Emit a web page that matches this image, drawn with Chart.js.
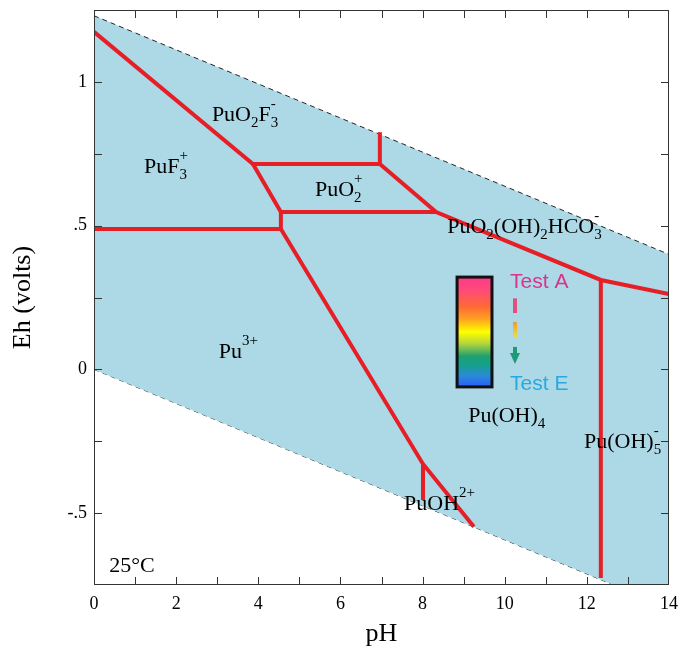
<!DOCTYPE html>
<html>
<head>
<meta charset="utf-8">
<script src="https://cdn.jsdelivr.net/npm/chart.js@4/dist/chart.umd.min.js"></script>
<style>
  html, body { margin: 0; background: #fff; }
  #wrap { width: 685px; height: 658px; }
</style>
</head>
<body>
<div id="wrap"><canvas id="chart"></canvas></div>
<script>
'use strict';

// ── Data ─────────────────────────────────────────────────────────────────────
const PH_MIN = 0, PH_MAX = 14;
const EH_MIN = -0.75, EH_MAX = 1.25;

const phLabelTicks = [0, 2, 4, 6, 8, 10, 12, 14];
const phMinorTicks = [1, 2, 3, 4, 5, 6, 7, 8, 9, 10, 11, 12, 13];
const ehLabelTicks = [-0.5, 0, 0.5, 1];
const ehTickLabels = ['-.5', '0', '.5', '1'];
const ehMinorTicks = [-0.5, -0.25, 0, 0.25, 0.5, 0.75, 1];

// water stability limits [pH, Eh]
const waterUpper = [[0, 1.23], [14, 0.40]];
const waterLower = [[0, 0.0], [14, -0.83]];

// predominance boundaries [pH, Eh]
const bFluoride  = [[0, 1.174], [3.87, 0.714], [6.96, 0.714], [8.33, 0.547], [12.34, 0.311], [14, 0.262]];
const bPuO2Top   = [[6.96, 0.714], [6.96, 0.825]];
const bPuO2Low   = [[3.87, 0.714], [4.55, 0.547], [8.33, 0.547]];
const bPu3Top    = [[0, 0.488], [4.55, 0.488], [4.55, 0.547]];
const bPu3Right  = [[4.55, 0.488], [8.01, -0.329], [9.25, -0.547]];
const bPuOH      = [[8.01, -0.329], [8.01, -0.454]];
const bPuOH5     = [[12.34, 0.311], [12.34, -0.726]];
const boundaries = [bFluoride, bPuO2Top, bPuO2Low, bPu3Top, bPu3Right, bPuOH, bPuOH5];

// species labels: parts, [pH, Eh] of baseline start
const speciesLabels = [
  { parts: ['PuO', { sub: '2' }, 'F', { sub: '3', sup: '-' }], at: [2.87, 0.864] },
  { parts: ['PuF', { sub: '3', sup: '+' }], at: [1.22, 0.683] },
  { parts: ['PuO', { sub: '2', sup: '+' }], at: [5.38, 0.603] },
  { parts: ['PuO', { sub: '2' }, '(OH)', { sub: '2' }, 'HCO', { sub: '3', sup: '-' }], at: [8.60, 0.474] },
  { parts: ['Pu', { sup: '3+' }], at: [3.04, 0.040] },
  { parts: ['Pu(OH)', { sub: '4' }], at: [9.11, -0.183] },
  { parts: ['Pu(OH)', { sub: '5', sup: '-' }], at: [11.93, -0.273] },
  { parts: ['PuOH', { sup: '2+' }], at: [7.55, -0.489] },
  { parts: ['25°C'], at: [0.37, -0.705] },
];

// ── Style ────────────────────────────────────────────────────────────────────
const SERIF = '"Liberation Serif", "Times New Roman", serif';
const SANS  = '"Liberation Sans", Arial, sans-serif';
const RED   = '#e61e25';
const FILL  = '#add8e6';

// colour key box (pH, Eh corners) and its legend
const keyBox   = { x0: 8.84, x1: 9.69, y0: 0.321, y1: -0.061 };
const keyStops = [[0, '#ff3a8e'], [0.12, '#ff4a78'], [0.27, '#ff6a35'], [0.38, '#ffa020'],
                  [0.50, '#ffff00'], [0.60, '#b8d838'], [0.72, '#20a070'], [0.80, '#14a08c'],
                  [0.90, '#2a8ad8'], [1, '#2a5cff']];

function lineDs(pts, extra) {
  return Object.assign({
    data: pts.map(([x, y]) => ({ x, y })),
    showLine: true,
    pointRadius: 0,
    pointHoverRadius: 0,
    fill: false,
  }, extra);
}

function drawFormula(ctx, parts, x, y, size) {
  const small = Math.round(size * 0.68);
  for (const p of parts) {
    if (typeof p === 'string') {
      ctx.font = `${size}px ${SERIF}`;
      ctx.fillText(p, x, y);
      x += ctx.measureText(p).width;
    } else {
      ctx.font = `${small}px ${SERIF}`;
      let w = 0;
      if (p.sub) { ctx.fillText(p.sub, x, y + size * 0.28); w = ctx.measureText(p.sub).width; }
      if (p.sup) { ctx.fillText(p.sup, x, y - size * 0.6); w = Math.max(w, ctx.measureText(p.sup).width); }
      x += w;
    }
  }
}

// ── Plugin: frame, inward ticks, labels, colour key ──────────────────────────
const decorPlugin = {
  id: 'decor',
  afterDatasetsDraw(chart) {
    const { ctx, chartArea: a, scales: { x, y } } = chart;
    ctx.save();

    // species labels
    ctx.fillStyle = '#000';
    ctx.textBaseline = 'alphabetic';
    ctx.textAlign = 'left';
    speciesLabels.forEach(l => {
      drawFormula(ctx, l.parts, x.getPixelForValue(l.at[0]), y.getPixelForValue(l.at[1]), 22);
    });

    // colour key
    const kx0 = x.getPixelForValue(keyBox.x0), kx1 = x.getPixelForValue(keyBox.x1);
    const ky0 = y.getPixelForValue(keyBox.y0), ky1 = y.getPixelForValue(keyBox.y1);
    const g = ctx.createLinearGradient(0, ky0, 0, ky1);
    keyStops.forEach(([o, c]) => g.addColorStop(o, c));
    ctx.fillStyle = g;
    ctx.fillRect(kx0, ky0, kx1 - kx0, ky1 - ky0);
    ctx.lineWidth = 3;
    ctx.strokeStyle = '#111';
    ctx.strokeRect(kx0, ky0, kx1 - kx0, ky1 - ky0);

    ctx.font = `21px ${SANS}`;
    ctx.fillStyle = '#d8348c';
    ctx.fillText('Test A', x.getPixelForValue(10.13), y.getPixelForValue(0.283));
    ctx.fillStyle = '#2aa8e0';
    ctx.fillText('Test E', x.getPixelForValue(10.13), y.getPixelForValue(-0.071));

    // dashed arrow
    const ax = x.getPixelForValue(10.25);
    ctx.lineWidth = 4;
    ctx.strokeStyle = '#e0507c';
    ctx.beginPath();
    ctx.moveTo(ax, y.getPixelForValue(0.247)); ctx.lineTo(ax, y.getPixelForValue(0.196));
    ctx.stroke();
    const s2a = y.getPixelForValue(0.165), s2b = y.getPixelForValue(0.113);
    const g2 = ctx.createLinearGradient(0, s2a, 0, s2b);
    g2.addColorStop(0, '#f09a30'); g2.addColorStop(1, '#e8e040');
    ctx.strokeStyle = g2;
    ctx.beginPath(); ctx.moveTo(ax, s2a); ctx.lineTo(ax, s2b); ctx.stroke();
    ctx.strokeStyle = '#1e9a78';
    ctx.fillStyle = '#1e9a78';
    const s3a = y.getPixelForValue(0.078), s3b = y.getPixelForValue(0.019);
    ctx.beginPath(); ctx.moveTo(ax, s3a); ctx.lineTo(ax, s3b - 10); ctx.stroke();
    ctx.beginPath();
    ctx.moveTo(ax - 5, s3b - 11); ctx.lineTo(ax + 5, s3b - 11); ctx.lineTo(ax, s3b);
    ctx.closePath(); ctx.fill();

    // frame
    ctx.lineWidth = 1;
    ctx.strokeStyle = '#333';
    ctx.strokeRect(a.left + 0.5, a.top + 0.5, a.right - a.left - 1, a.bottom - a.top - 1);

    // inward ticks
    const len = 8;
    ctx.beginPath();
    phMinorTicks.forEach(v => {
      const px = Math.round(x.getPixelForValue(v)) + 0.5;
      ctx.moveTo(px, a.bottom); ctx.lineTo(px, a.bottom - len);
      ctx.moveTo(px, a.top); ctx.lineTo(px, a.top + len);
    });
    ehMinorTicks.forEach(v => {
      const py = Math.round(y.getPixelForValue(v)) + 0.5;
      ctx.moveTo(a.left, py); ctx.lineTo(a.left + len, py);
      ctx.moveTo(a.right, py); ctx.lineTo(a.right - len, py);
    });
    ctx.stroke();
    ctx.restore();
  },
};

// ── Chart ────────────────────────────────────────────────────────────────────
const datasets = [
  lineDs(waterUpper, { borderColor: '#222', borderWidth: 1, borderDash: [5, 4], fill: '+1', backgroundColor: FILL, order: 10 }),
  lineDs(waterLower, { borderColor: '#222', borderWidth: 1, borderDash: [5, 4], order: 10 }),
  ...boundaries.map(b => lineDs(b, { borderColor: RED, borderWidth: 4, borderJoinStyle: 'miter', order: 1 })),
];

new Chart(document.getElementById('chart'), {
  type: 'scatter',
  data: { datasets },
  options: {
    responsive: true,
    maintainAspectRatio: false,
    animation: false,
    layout: { padding: { left: 0, right: 16, top: 10, bottom: 0 } },
    plugins: { legend: { display: false }, tooltip: { enabled: false } },
    scales: {
      x: {
        type: 'linear',
        min: PH_MIN, max: PH_MAX,
        afterBuildTicks: s => { s.ticks = phLabelTicks.map(v => ({ value: v })); },
        afterFit: s => { s.height = 73; s.paddingLeft = 0; s.paddingRight = 0; },
        grid: { display: false, drawTicks: false },
        border: { display: false },
        ticks: { padding: 8, color: '#000', font: { family: SERIF, size: 18 }, maxRotation: 0, callback: v => String(v) },
        title: { display: true, text: 'pH', color: '#000', font: { family: SERIF, size: 26 }, padding: { top: 0, bottom: 8 } },
      },
      y: {
        type: 'linear',
        min: EH_MIN, max: EH_MAX,
        afterBuildTicks: s => { s.ticks = ehLabelTicks.map(v => ({ value: v })); },
        afterFit: s => { s.width = 94; s.paddingTop = 0; s.paddingBottom = 0; },
        grid: { display: false, drawTicks: false },
        border: { display: false },
        ticks: { padding: 7, color: '#000', font: { family: SERIF, size: 18 },
                 callback: v => ehTickLabels[ehLabelTicks.indexOf(v)] ?? '' },
        title: { display: true, text: 'Eh (volts)', color: '#000', font: { family: SERIF, size: 26 }, padding: { top: 8, bottom: 0 } },
      },
    },
  },
  plugins: [decorPlugin],
});
</script>
</body>
</html>
